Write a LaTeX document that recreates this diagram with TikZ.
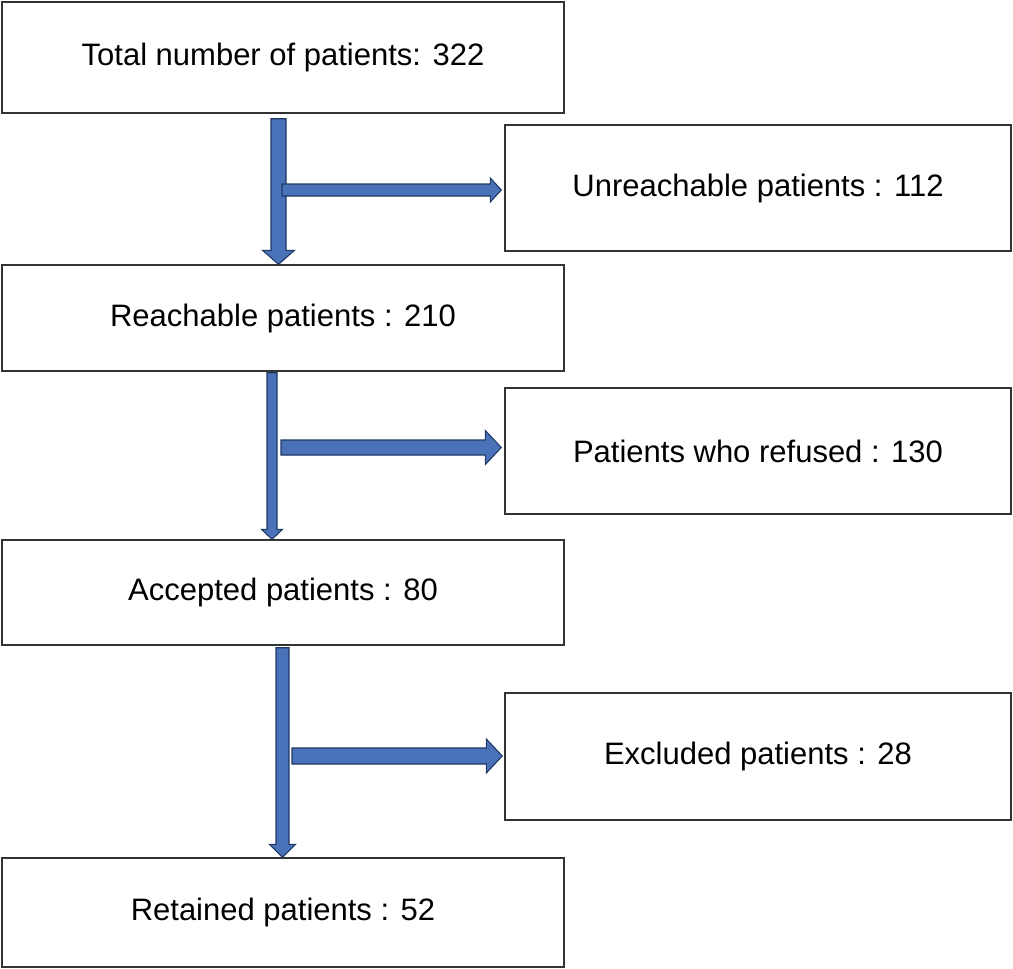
\documentclass[tikz,border=0pt]{standalone}
\usepackage{fontspec}
\setmainfont{Liberation Sans}
\usetikzlibrary{calc}
\definecolor{arrowfill}{HTML}{4A72B8}
\definecolor{arrowline}{HTML}{1F3864}
\definecolor{boxline}{HTML}{333333}
\tikzset{
  box/.style={draw=boxline, line width=1.4pt, fill=white, inner sep=0pt,
    font=\fontsize{31}{37}\selectfont, text=black},
  leftbox/.style={box, minimum width=562pt},
  rightbox/.style={box, minimum width=506pt},
  barrow/.style={fill=arrowfill, draw=arrowline, line width=1.1pt, line join=miter}
}
\newcommand\vblockarrow[5]{%
  \draw[barrow] ($(#1)+(-#3,0)$) -- ($(#2)+(-#3,-#5)$) -- ($(#2)+(-#4,-#5)$) -- (#2)
    -- ($(#2)+(#4,-#5)$) -- ($(#2)+(#3,-#5)$) -- ($(#1)+(#3,0)$) -- cycle;}
\newcommand\hblockarrow[5]{%
  \draw[barrow] ($(#1)+(0,-#3)$) -- ($(#2)+(-#5,-#3)$) -- ($(#2)+(-#5,-#4)$) -- (#2)
    -- ($(#2)+(-#5,#4)$) -- ($(#2)+(-#5,#3)$) -- ($(#1)+(0,#3)$) -- cycle;}
\begin{document}
\begin{tikzpicture}[x=1pt,y=-1pt]
\useasboundingbox (0,0) rectangle (1013,969);
% boxes
\node[leftbox, minimum height=111pt] (total) at (283,57.5) {Total number of patients: 322};
\node[rightbox, minimum height=126pt] (unreach) at (758,188) {Unreachable patients : 112};
\node[leftbox, minimum height=106pt] (reach) at (283,318) {Reachable patients : 210};
\node[rightbox, minimum height=126pt] (refused) at (758,451) {Patients who refused : 130};
\node[leftbox, minimum height=105pt] (accepted) at (283,592.5) {Accepted patients : 80};
\node[rightbox, minimum height=127pt] (excluded) at (758,756.5) {Excluded patients : 28};
\node[leftbox, minimum height=109pt] (retained) at (283,912.5) {Retained patients : 52};
% arrow endpoints
\coordinate (v1s) at ($(total.south)+(-4.5,5)$);
\coordinate (v1e) at (v1s |- reach.north);
\coordinate (h1s) at (282,190);
\coordinate (h1e) at ($(h1s -| unreach.west)+(-3,0)$);
\coordinate (v2s) at ($(reach.south)+(-11,1)$);
\coordinate (v2e) at (v2s |- accepted.north);
\coordinate (h2s) at (281,447.5);
\coordinate (h2e) at ($(h2s -| refused.west)+(-3,0)$);
\coordinate (v3s) at ($(accepted.south)+(-0.5,2)$);
\coordinate (v3e) at (v3s |- retained.north);
\coordinate (h3s) at (292,756);
\coordinate (h3e) at ($(h3s -| excluded.west)+(-2,0)$);
% arrows
\vblockarrow{v1s}{v1e}{7.5}{16}{14}
\hblockarrow{h1s}{h1e}{6}{12}{11}
\vblockarrow{v2s}{v2e}{5}{10.5}{10}
\hblockarrow{h2s}{h2e}{7.5}{17}{16}
\vblockarrow{v3s}{v3e}{6.5}{13}{13}
\hblockarrow{h3s}{h3e}{8}{17}{16}
\end{tikzpicture}
\end{document}
